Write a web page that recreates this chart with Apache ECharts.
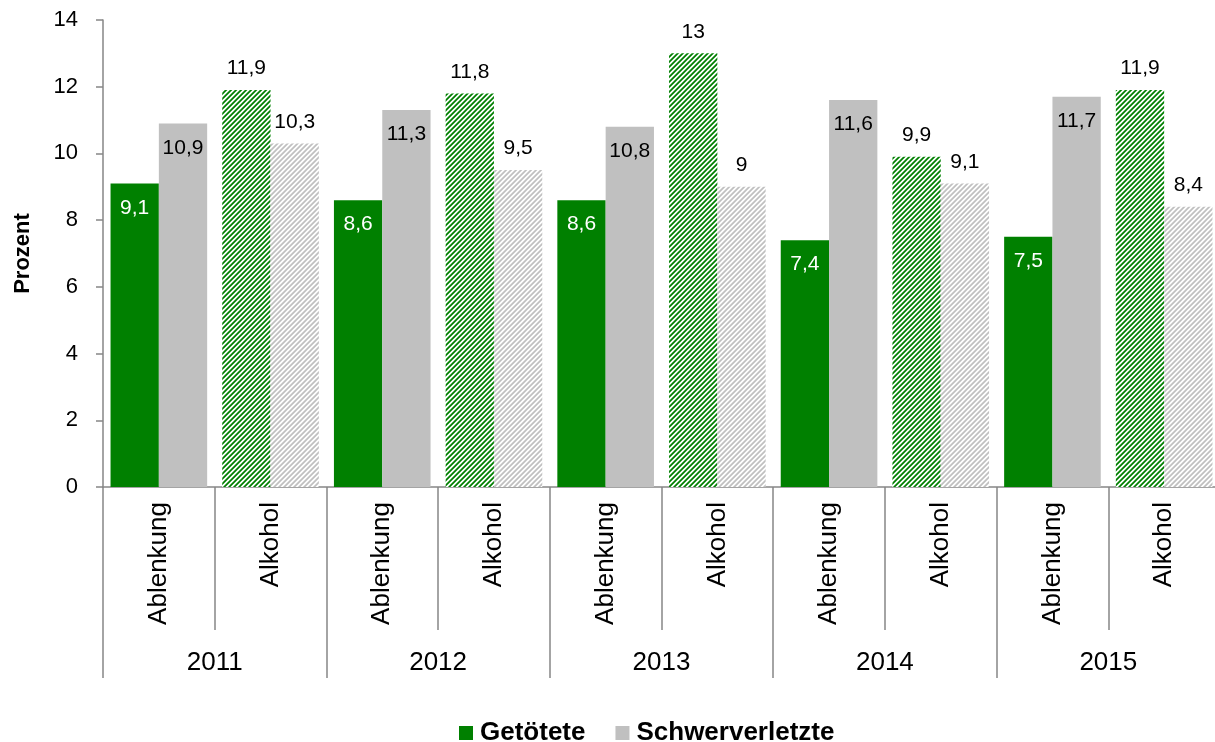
<!DOCTYPE html>
<html>
<head>
<meta charset="utf-8">
<script src="https://cdn.jsdelivr.net/npm/echarts@6/dist/echarts.min.js"></script>
<style>
  html, body { margin: 0; padding: 0; background: #fff; }
  #chart { width: 1215px; height: 742px; }
</style>
</head>
<body>
<div id="chart"></div>
<script>
// Anteil an Getöteten und Schwerverletzten nach Unfallursache, 2011–2015
const years = ['2011', '2012', '2013', '2014', '2015'];
const causes = ['Ablenkung', 'Alkohol'];
const getoetete = [9.1, 11.9, 8.6, 11.8, 8.6, 13, 7.4, 9.9, 7.5, 11.9];
const schwerverletzte = [10.9, 10.3, 11.3, 9.5, 10.8, 9.0, 11.6, 9.1, 11.7, 8.4];
const yTicks = { min: 0, max: 14, interval: 2 };

const GREEN = [0, 128, 0];
const GREY = [192, 192, 192];
const AXIS = '#868686';
const FONT = '"Liberation Sans", Arial, sans-serif';
const rgb = c => 'rgb(' + c.join(',') + ')';

// one category per year/cause combination
const categories = [];
years.forEach(y => causes.forEach(c => categories.push(y + '|' + c)));

// diagonal "/" stripe tile used for the Alkohol bars (supersampled for soft edges)
function hatch(color) {
  const size = 5, band = 2.3, ss = 4;
  const c = document.createElement('canvas');
  c.width = c.height = size;
  const ctx = c.getContext('2d');
  const img = ctx.createImageData(size, size);
  for (let y = 0; y < size; y++) {
    for (let x = 0; x < size; x++) {
      let hit = 0;
      for (let sy = 0; sy < ss; sy++) {
        for (let sx = 0; sx < ss; sx++) {
          const u = x + (sx + 0.5) / ss, v = y + (sy + 0.5) / ss;
          if (((u + v) % size) < band) hit++;
        }
      }
      const a = hit / (ss * ss);
      const k = (y * size + x) * 4;
      for (let ch = 0; ch < 3; ch++) img.data[k + ch] = Math.round(255 * (1 - a) + color[ch] * a);
      img.data[k + 3] = 255;
    }
  }
  ctx.putImageData(img, 0, 0);
  return { image: c, repeat: 'repeat' };
}

const fmt = v => String(v).replace('.', ',');

function buildData(values, color, insideColor) {
  const pattern = hatch(color);
  return values.map((v, i) => {
    const isAlk = categories[i].split('|')[1] === 'Alkohol';
    return {
      value: v,
      itemStyle: { color: isAlk ? pattern : rgb(color) },
      label: isAlk
        ? { position: 'top', distance: 11, color: '#000' }
        : { position: 'insideTop', distance: 14, color: insideColor }
    };
  });
}

const chart = echarts.init(document.getElementById('chart'), null, { renderer: 'canvas' });

chart.setOption({
  animation: false,
  textStyle: { fontFamily: FONT },
  grid: { left: 103, top: 20, width: 1117, bottom: 255, containLabel: false, outerBoundsMode: 'none' },
  legend: {
    left: 459,
    top: 720,
    padding: 0,
    itemWidth: 14,
    itemHeight: 14,
    itemGap: 30,
    itemStyle: { borderWidth: 0 },
    icon: 'rect',
    textStyle: { fontFamily: FONT, fontWeight: 'bold', fontSize: 26, color: '#000', padding: [0, 0, 0, 2] },
    data: [
      { name: 'Getötete', itemStyle: { color: rgb(GREEN) } },
      { name: 'Schwerverletzte', itemStyle: { color: rgb(GREY) } }
    ]
  },
  xAxis: [
    {
      type: 'category',
      data: categories,
      position: 'bottom',
      axisLine: { show: true, lineStyle: { color: AXIS, width: 1.5 } },
      axisTick: { show: true, interval: 0, length: 143, lineStyle: { color: AXIS, width: 1.5 } },
      axisLabel: {
        interval: 0,
        rotate: 90,
        margin: 15,
        fontSize: 26,
        color: '#000',
        fontFamily: FONT,
        formatter: v => v.split('|')[1]
      }
    },
    {
      type: 'category',
      data: years,
      position: 'bottom',
      offset: 0,
      axisLine: { show: false },
      axisTick: { show: true, interval: 0, length: 191, lineStyle: { color: AXIS, width: 1.5 } },
      axisLabel: { interval: 0, margin: 163, fontSize: 26, color: '#000', fontFamily: FONT }
    }
  ],
  yAxis: {
    type: 'value',
    min: yTicks.min,
    max: yTicks.max,
    interval: yTicks.interval,
    name: 'Prozent',
    nameLocation: 'middle',
    nameGap: 69,
    nameTextStyle: { fontFamily: FONT, fontWeight: 'bold', fontSize: 22, color: '#000' },
    splitLine: { show: false },
    axisLine: { show: true, lineStyle: { color: AXIS, width: 1.5 } },
    axisTick: { show: true, length: 7, lineStyle: { color: AXIS, width: 1.5 } },
    axisLabel: { margin: 25, fontSize: 22, color: '#000', fontFamily: FONT }
  },
  series: [
    {
      name: 'Getötete',
      type: 'bar',
      xAxisIndex: 0,
      barGap: '0%',
      barCategoryGap: '13.5%',
      data: buildData(getoetete, GREEN, '#fff'),
      label: { show: true, fontSize: 21, fontFamily: FONT, formatter: p => fmt(p.value) }
    },
    {
      name: 'Schwerverletzte',
      type: 'bar',
      xAxisIndex: 0,
      barGap: '0%',
      barCategoryGap: '13.5%',
      data: buildData(schwerverletzte, GREY, '#000'),
      label: { show: true, fontSize: 21, fontFamily: FONT, formatter: p => fmt(p.value) }
    }
  ]
});
</script>
</body>
</html>
